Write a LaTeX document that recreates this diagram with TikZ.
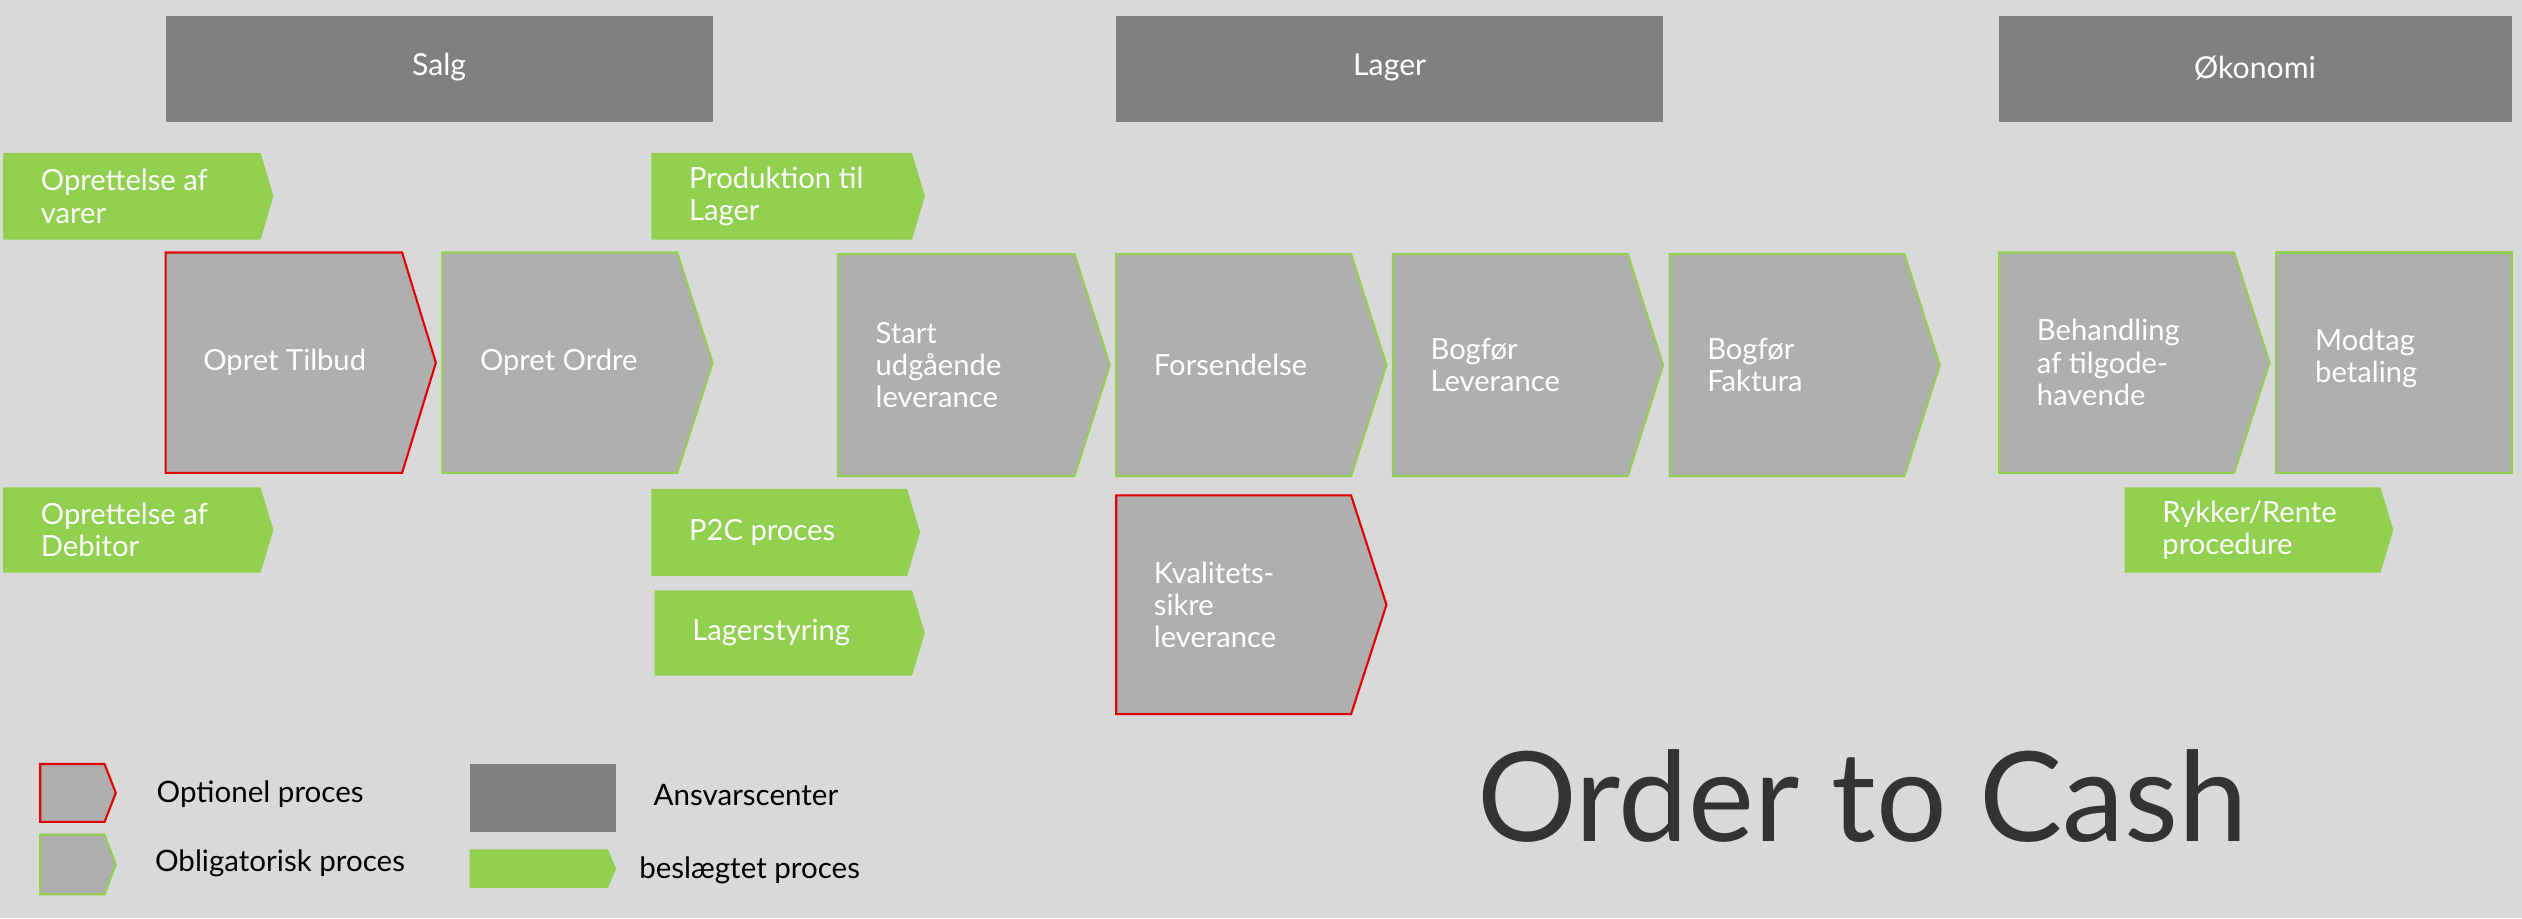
\documentclass[tikz,border=0pt]{standalone}
\usepackage{fontspec}
\setmainfont{Lato}
\definecolor{bg}{HTML}{D9D9D9}
\definecolor{hdr}{HTML}{808080}
\definecolor{proc}{HTML}{AFAFAF}
\definecolor{grn}{HTML}{92D050}
\definecolor{rd}{HTML}{E00000}
\newcommand{\chev}[8]{%
  \filldraw[#6] (#1,#2) -- (#3-#5,#2) -- (#3,{(#2+#4)/2}) -- (#3-#5,#4) -- (#1,#4) -- cycle;
  \node[lbl] (#8) at (#1+23,{(#2+#4)/2}) {#7};}
\begin{document}
\begin{tikzpicture}[x=0.01608cm,y=-0.01608cm,
  lbl/.style={anchor=west,text=white,font=\fontsize{8.3pt}{9.2pt}\selectfont,align=left,inner sep=0},
  optional/.style={fill=proc,draw=rd,line width=0.6pt},
  mandatory/.style={fill=proc,draw=grn,line width=0.6pt},
  rel/.style={fill=grn,draw=none},
  head/.style={fill=hdr,draw=none,text=white,font=\fontsize{8.6pt}{10pt}\selectfont},
  leg/.style={anchor=west,text=black,font=\fontsize{8.4pt}{9.6pt}\selectfont,inner sep=0}]
\fill[bg] (0,0) rectangle (1568,571);
\useasboundingbox (0,0) rectangle (1568,571);
% headers
\fill[hdr] (103,10) rectangle (443,76); \node[head] (salg) at (273,42) {Salg};
\fill[hdr] (694,10) rectangle (1034,76); \node[head] (lager) at (864,42) {Lager};
\fill[hdr] (1243,10) rectangle (1562,76); \node[head] (oko) at (1402,42) {Økonomi};
% related
\chev{2}{95}{170}{149}{8}{rel}{Oprettelse af\\varer}{r1}
\chev{405}{95}{575}{149}{8}{rel}{Produktion til\\Lager}{r2}
\chev{2}{303}{170}{356}{8}{rel}{Oprettelse af\\Debitor}{r3}
\chev{405}{304}{572}{358}{8}{rel}{P2C proces}{r4}
\chev{407}{367}{575}{420}{8}{rel}{Lagerstyring}{r5}
\chev{1321}{303}{1488}{356}{8}{rel}{Rykker/Rente\\procedure}{r6}
% processes
\chev{103}{157}{271}{294}{21}{optional}{Opret Tilbud}{p1}
\chev{275}{157}{443}{294}{22}{mandatory}{Opret Ordre}{p2}
\chev{521}{158}{690}{296}{22}{mandatory}{Start\\udgående\\leverance}{p3}
\chev{694}{158}{862}{296}{22}{mandatory}{Forsendelse}{p4}
\chev{866}{158}{1034}{296}{22}{mandatory}{Bogfør\\Leverance}{p5}
\chev{1038}{158}{1206}{296}{22}{mandatory}{Bogfør\\Faktura}{p6}
\chev{1243}{157}{1411}{294}{22}{mandatory}{Behandling\\af tilgode-\\havende}{p7}
\filldraw[mandatory] (1415,157) rectangle (1562,294);
\node[lbl] (p8) at (1439,223) {Modtag\\betaling};
\chev{694}{308}{862}{444}{22}{optional}{Kvalitets-\\sikre\\leverance}{p9}
% legend
\filldraw[optional] (25,475) -- (65,475) -- (72,493) -- (65,511) -- (25,511) -- cycle;
\node[leg] (l1) at (97,494) {Optionel proces};
\filldraw[mandatory] (25,519) -- (65,519) -- (72,537.5) -- (65,556) -- (25,556) -- cycle;
\node[leg] (l2) at (96,537) {Obligatorisk proces};
\fill[hdr] (292,475) rectangle (383,517);
\node[leg] (l3) at (406,494) {Ansvarscenter};
\fill[grn] (292,528) -- (378,528) -- (383,540) -- (378,552) -- (292,552) -- cycle;
\node[leg] (l4) at (397,541) {beslægtet proces};
\node[text=black!80,font=\fontsize{35.5pt}{40pt}\selectfont,inner sep=0] (title) at (1158,495) {Order to Cash};
\end{tikzpicture}
\end{document}
